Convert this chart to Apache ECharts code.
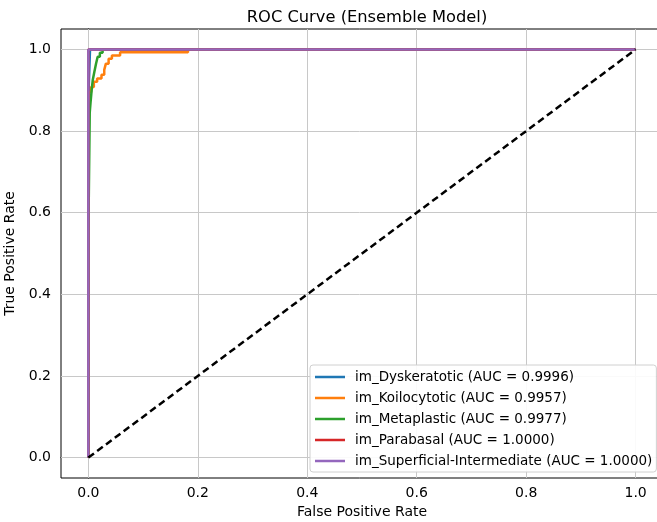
<!DOCTYPE html>
<html>
<head>
<meta charset="utf-8">
<script src="https://cdn.jsdelivr.net/npm/echarts@6/dist/echarts.min.js"></script>
<style>html,body{margin:0;padding:0;background:#fff}#c{width:657px;height:522px}</style>
</head>
<body>
<div id="c"></div>
<script>
const tickValues = [0, 0.2, 0.4, 0.6, 0.8, 1.0];
const seriesNames = [
  'im_Dyskeratotic (AUC = 0.9996)',
  'im_Koilocytotic (AUC = 0.9957)',
  'im_Metaplastic (AUC = 0.9977)',
  'im_Parabasal (AUC = 1.0000)',
  'im_Superficial-Intermediate (AUC = 1.0000)'
];
const colors = ['#1f77b4', '#ff7f0e', '#2ca02c', '#d62728', '#9467bd'];

const fprDys = [0, 0, 0.003, 0.003, 1];
const tprDys = [0, 0.88, 0.88, 1, 1];

const fprKoi = [0, 0, 0.005, 0.005, 0.010, 0.010, 0.016, 0.016, 0.024, 0.024, 0.029, 0.029, 0.032, 0.032, 0.037, 0.037, 0.043, 0.043, 0.058, 0.058, 0.182, 0.182, 1];
const tprKoi = [0, 0.895, 0.895, 0.908, 0.908, 0.921, 0.921, 0.929, 0.929, 0.938, 0.938, 0.950, 0.950, 0.965, 0.965, 0.977, 0.977, 0.985, 0.985, 0.993, 0.993, 1, 1];

const fprMet = [0, 0, 0.0025, 0.0025, 0.004, 0.004, 0.006, 0.006, 0.008, 0.008, 0.011, 0.011, 0.014, 0.014, 0.017, 0.017, 0.021, 0.021, 0.026, 0.026, 1];
const tprMet = [0, 0.545, 0.545, 0.845, 0.845, 0.87, 0.87, 0.90, 0.90, 0.925, 0.925, 0.945, 0.945, 0.965, 0.965, 0.982, 0.982, 0.992, 0.992, 1, 1];

const fprPar = [0, 0, 1];
const tprPar = [0, 1, 1];

const fprSup = [0, 0, 1];
const tprSup = [0, 1, 1];

const diagX = [0, 1];
const diagY = [0, 1];

const curves = [[fprDys, tprDys], [fprKoi, tprKoi], [fprMet, tprMet], [fprPar, tprPar], [fprSup, tprSup]];
const zip = (xs, ys) => xs.map((x, i) => [x, ys[i]]);

const font = 'DejaVu Sans';
const chart = echarts.init(document.getElementById('c'));

const series = [{
  type: 'line', name: 'grid', data: [], z: 0, silent: true,
  markLine: {
    silent: true, symbol: 'none', animation: false, label: { show: false },
    lineStyle: { color: '#c8c8c8', width: 1, type: 'solid' },
    data: tickValues.map(v => ({ xAxis: v })).concat(tickValues.map(v => ({ yAxis: v })))
  }
}];
curves.forEach((c, i) => {
  series.push({
    type: 'line', name: seriesNames[i], data: zip(c[0], c[1]),
    symbol: 'none', showSymbol: false, z: 3 + i,
    lineStyle: { color: colors[i], width: 2.5 }, itemStyle: { color: colors[i] },
    emphasis: { disabled: true }
  });
});
series.push({
  type: 'line', name: 'diag', data: zip(diagX, diagY), symbol: 'none', z: 10,
  lineStyle: { color: '#000', width: 2.5, type: [7, 4] }
});

chart.setOption({
  animation: false,
  backgroundColor: '#fff',
  title: {
    text: 'ROC Curve (Ensemble Model)', left: 362, top: 5, textAlign: 'center',
    textStyle: { fontFamily: font, fontSize: 16.3, fontWeight: 'normal', color: '#000' }
  },
  grid: { left: 61, top: 29, width: 602, height: 449, show: true, borderColor: '#000', borderWidth: 1, backgroundColor: 'transparent', outerBoundsMode: 'none', containLabel: false },
  xAxis: {
    type: 'value', min: -0.05, max: 1.05,
    name: 'False Positive Rate', nameLocation: 'middle', nameGap: 26,
    nameTextStyle: { fontFamily: font, fontSize: 14, color: '#000' },
    axisLine: { show: true, lineStyle: { color: '#000', width: 1 } },
    axisTick: { show: true, length: 5, inside: false, customValues: tickValues, lineStyle: { color: '#000' } },
    axisLabel: { customValues: tickValues, fontFamily: font, fontSize: 14, color: '#000', margin: 8, formatter: v => v.toFixed(1) },
    splitLine: { show: false }
  },
  yAxis: {
    type: 'value', min: -0.05, max: 1.05,
    name: 'True Positive Rate', nameLocation: 'middle', nameGap: 36, nameRotate: 90,
    nameTextStyle: { fontFamily: font, fontSize: 14, color: '#000' },
    axisLine: { show: true, lineStyle: { color: '#000', width: 1 } },
    axisTick: { show: true, length: 5, inside: false, customValues: tickValues, lineStyle: { color: '#000' } },
    axisLabel: { customValues: tickValues, fontFamily: font, fontSize: 14, color: '#000', margin: 10, formatter: v => v.toFixed(1) },
    splitLine: { show: false }
  },
  legend: {
    data: seriesNames, orient: 'vertical', left: 310, top: 365, z: 50,
    icon: 'rect', itemWidth: 30, itemHeight: 2.5, itemGap: 7, itemTextGap: 10,
    padding: [5, 4, 4, 5],
    backgroundColor: 'rgba(255,255,255,0.9)', borderColor: '#d0d0d0', borderWidth: 1, borderRadius: 3,
    textStyle: { fontFamily: font, fontSize: 13.5, lineHeight: 14, color: '#000', padding: [0, 0, 0, 5] },
    selectedMode: false
  },
  series: series
});
</script>
</body>
</html>
